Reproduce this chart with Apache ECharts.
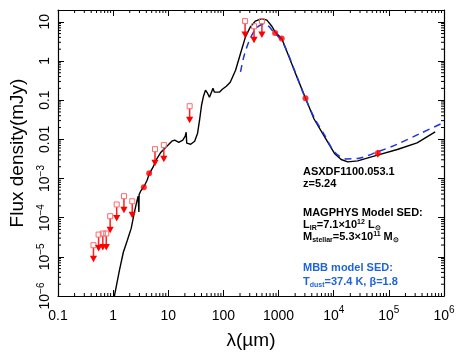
<!DOCTYPE html>
<html><head><meta charset="utf-8">
<script src="https://cdn.jsdelivr.net/npm/echarts@6/dist/echarts.min.js"></script>
<style>html,body{margin:0;padding:0;background:#fff}#c{width:463px;height:363px}</style>
</head><body><div id="c"></div>
<script>
// MAGPHYS model SED (wavelength in micron, flux in mJy)
const lamModel = [1.04,1.30,1.53,1.81,2.13,2.41,2.62,2.84,2.90,2.93,2.96,3.15,3.65,4.13,4.49,5.29,5.99,7.36,9.84,11.6,13.1,15.5,18.3,20.3,21.1,21.6,25.5,30.1,34.0,36.9,40.1,43.5,47.3,51.4,55.8,60.7,64.6,68.7,74.6,84.4,95.5,113,133,166,204,251,308,378,499,614,755,865,1140,1506,2123,3080,4400,6840,10330,13640,17990,27200,62200,142000,325000,692000];
const fluxModel = [9.1e-7,4.5e-6,1.31e-5,2.65e-5,5.4e-5,1.30e-4,2.21e-4,3.53e-4,3.7e-4,1.4e-4,3.9e-4,4.73e-4,6.35e-4,9.0e-4,1.29e-3,1.94e-3,2.93e-3,4.69e-3,7.08e-3,8.95e-3,9.5e-3,8.4e-3,9.5e-3,1.2e-2,1.52e-2,7.96e-3,7.5e-3,8.95e-3,1.43e-2,3.07e-2,7.4e-2,0.126,0.18,0.15,0.119,0.16,0.20,0.16,0.15,0.16,0.19,0.227,0.287,0.58,1.55,4.11,7.41,10.4,12.1,11.0,7.7,5.5,3.75,1.40,0.41,0.112,0.033,0.01153,4.35e-3,3.05e-3,2.65e-3,2.81e-3,3.93e-3,5.5e-3,8.1e-3,1.55e-2];
// MBB model SED
const lamMBB = [204,234,288,354,436,535,659,809,995,1140,1506,2123,2990,4520,6840,9680,12700,16750,27200,62200,142000,372000,912000];
const fluxMBB = [0.526,1.27,3.07,5.52,7.73,8.69,7.73,5.52,4.12,3.4,1.45,0.42,0.121,0.034,0.0127,5.27e-3,3.71e-3,3.16e-3,3.24e-3,4.78e-3,7.5e-3,0.0141,0.0254];
// detections
const detLam = [3.6,4.5,865,1140,3080,63000];
const detFlux = [6.0e-4,1.36e-3,5.2,3.75,0.112,4.4e-3];
const detErr = [0,0,0,0,0,0.0009];
// upper limits
const ulLam = [0.44,0.545,0.65,0.75,0.883,1.16,1.57,2.22,5.74,8.3,24.4,247,359,499];
const ulFlux = [1.98e-5,3.7e-5,3.94e-5,3.94e-5,1.09e-4,2.17e-4,3.53e-4,2.62e-4,5.6e-3,7.1e-3,0.070,10.4,7.7,10.4];
// tick labels
const xTickExp = [-1,0,1,2,3,4,5,6];
const xTickBase = ['0.1','1','10','100','1000','10','10','10'];
const xTickSup = ['','','','','','4','5','6'];
const yTickExp = [-6,-5,-4,-3,-2,-1,0,1];
const yTickBase = ['10','10','10','10','0.01','0.1','1','10'];
const yTickSup = ['\u22126','\u22125','\u22124','\u22123','','','',''];

const FF = '"Liberation Sans", Arial, Helvetica, sans-serif';
function fmt(exps, base, sup) {
  return function (v) {
    const e = Math.log10(v), k = Math.round(e);
    if (Math.abs(e - k) > 0.02) return '';
    const i = exps.indexOf(k);
    if (i < 0) return '';
    return '{b|' + base[i] + '}' + (sup[i] ? '{s|' + sup[i] + '}' : '');
  };
}
const minorData = [];
for (let k = -1; k <= 5; k++) for (let m = 2; m <= 9; m++) minorData.push([m * Math.pow(10, k), 1, 0]);
for (let k = -6; k <= 1; k++) for (let m = 2; m <= 9; m++) { const f = m * Math.pow(10, k); if (f < 20) minorData.push([1, f, 1]); }

const axisCommon = {
  type: 'log', logBase: 10,
  axisLine: { show: true, lineStyle: { color: '#000', width: 1.2 } },
  axisTick: { show: true, inside: true, length: 6, lineStyle: { color: '#000', width: 1 } },
  splitLine: { show: false }, minorTick: { show: false }
};
const xLab = {
  formatter: fmt(xTickExp, xTickBase, xTickSup), margin: 9, color: '#000',
  rich: { b: { fontSize: 14, lineHeight: 22, fontFamily: FF, color: '#000' },
          s: { fontSize: 10, lineHeight: 10, verticalAlign: 'top', fontFamily: FF, color: '#000' } }
};
const yLab = {
  formatter: fmt(yTickExp, yTickBase, yTickSup), margin: 4, rotate: 90, color: '#000',
  rich: { b: { fontSize: 14, lineHeight: 18, fontFamily: FF, color: '#000' },
          s: { fontSize: 10, lineHeight: 10, verticalAlign: 'top', fontFamily: FF, color: '#000' } }
};

const chart = echarts.init(document.getElementById('c'), null, { renderer: 'canvas' });
const red = '#ff0000';
chart.setOption({
  animation: false,
  backgroundColor: '#fff',
  grid: { left: 54, right: 19, top: 10, bottom: 67, show: false },
  xAxis: [
    Object.assign({}, axisCommon, { min: 0.1, max: 1e6, position: 'bottom', axisLabel: xLab,
      name: '\u03bb(\u00b5m)', nameLocation: 'middle', nameGap: 35,
      nameTextStyle: { fontSize: 19, fontFamily: FF, color: '#000' } }),
    Object.assign({}, axisCommon, { min: 0.1, max: 1e6, position: 'top', axisLabel: { show: false } })
  ],
  yAxis: [
    Object.assign({}, axisCommon, { min: 1e-6, max: 20, position: 'left', axisLabel: yLab,
      name: 'Flux density(mJy)', nameLocation: 'middle', nameGap: 31,
      nameTextStyle: { fontSize: 19, fontFamily: FF, color: '#000' } }),
    Object.assign({}, axisCommon, { min: 1e-6, max: 20, position: 'right', axisLabel: { show: false } })
  ],
  series: [
    { type: 'custom', silent: true, data: minorData, z: 1,
      renderItem: function (params, api) {
        const cs = params.coordSys;
        const st = { stroke: '#000', lineWidth: 1 };
        if (api.value(2) === 0) {
          const x = api.coord([api.value(0), 1])[0];
          return { type: 'group', children: [
            { type: 'line', shape: { x1: x, y1: cs.y + cs.height, x2: x, y2: cs.y + cs.height - 3 }, style: st },
            { type: 'line', shape: { x1: x, y1: cs.y, x2: x, y2: cs.y + 3 }, style: st } ] };
        } else {
          const y = api.coord([1, api.value(1)])[1];
          return { type: 'group', children: [
            { type: 'line', shape: { x1: cs.x, y1: y, x2: cs.x + 3, y2: y }, style: st },
            { type: 'line', shape: { x1: cs.x + cs.width, y1: y, x2: cs.x + cs.width - 3, y2: y }, style: st } ] };
        }
      } },
    { type: 'line', data: lamModel.map((l, i) => [l, fluxModel[i]]), showSymbol: false, symbol: 'none',
      lineStyle: { color: '#000', width: 1.4 }, z: 3, clip: true },
    { type: 'line', data: lamMBB.map((l, i) => [l, fluxMBB[i]]), showSymbol: false, symbol: 'none', smooth: 0.3,
      lineStyle: { color: '#1c33e0', width: 1.5, type: [7, 5] }, z: 4, clip: true },
    { type: 'custom', silent: true, z: 5, data: ulLam.map((l, i) => [l, ulFlux[i]]),
      renderItem: function (params, api) {
        const p = api.coord([api.value(0), api.value(1)]);
        const x = p[0], y = p[1], tip = y + 17;
        return { type: 'group', children: [
          { type: 'line', shape: { x1: x, y1: y + 2.5, x2: x, y2: tip - 5 }, style: { stroke: '#ff2020', lineWidth: 1.5 } },
          { type: 'polygon', shape: { points: [[x - 3.6, tip - 6.5], [x + 3.6, tip - 6.5], [x, tip]] }, style: { fill: red } },
          { type: 'rect', shape: { x: x - 2.5, y: y - 2.5, width: 5, height: 5 }, style: { stroke: '#ff6a6a', fill: 'rgba(255,255,255,0)', lineWidth: 1 } }
        ] };
      } },
    { type: 'custom', silent: true, z: 6, data: detLam.map((l, i) => [l, detFlux[i] - detErr[i], detFlux[i] + detErr[i]]),
      renderItem: function (params, api) {
        const a = api.coord([api.value(0), api.value(1)]);
        const b = api.coord([api.value(0), api.value(2)]);
        return { type: 'line', shape: { x1: a[0], y1: a[1], x2: b[0], y2: b[1] }, style: { stroke: red, lineWidth: 1.5 } };
      } },
    { type: 'scatter', data: detLam.map((l, i) => [l, detFlux[i]]), symbol: 'circle', symbolSize: 6,
      itemStyle: { color: red }, z: 7 }
  ],
  graphic: [
    { type: 'text', x: 303, y: 172, style: { text: 'ASXDF1100.053.1', fontSize: 11, fontWeight: 'bold', fontFamily: FF, fill: '#000', verticalAlign: 'middle' } },
    { type: 'text', x: 303, y: 184, style: { text: 'z=5.24', fontSize: 11, fontWeight: 'bold', fontFamily: FF, fill: '#000', verticalAlign: 'middle' } },
    { type: 'text', x: 303, y: 213, style: { text: 'MAGPHYS Model SED:', fontSize: 11, fontWeight: 'bold', fontFamily: FF, fill: '#000', verticalAlign: 'middle' } },
    { type: 'text', x: 303, y: 225, style: { text: 'L{sub|IR}=7.1\u00d710{sup|12} L{sub|\u2299}', fontSize: 11, fontWeight: 'bold', fontFamily: FF, fill: '#000', verticalAlign: 'middle', lineHeight: 13,
      rich: { sub: { fontSize: 7, fontWeight: 'bold', fontFamily: FF, verticalAlign: 'bottom', fill: '#000' }, sup: { fontSize: 7, fontWeight: 'bold', fontFamily: FF, verticalAlign: 'top', fill: '#000' } } } },
    { type: 'text', x: 303, y: 237, style: { text: 'M{sub|stellar}=5.3\u00d710{sup|11} M{sub|\u2299}', fontSize: 11, fontWeight: 'bold', fontFamily: FF, fill: '#000', verticalAlign: 'middle', lineHeight: 13,
      rich: { sub: { fontSize: 7, fontWeight: 'bold', fontFamily: FF, verticalAlign: 'bottom', fill: '#000' }, sup: { fontSize: 7, fontWeight: 'bold', fontFamily: FF, verticalAlign: 'top', fill: '#000' } } } },
    { type: 'text', x: 303, y: 268, style: { text: 'MBB model SED:', fontSize: 11, fontWeight: 'bold', fontFamily: FF, fill: '#1e64dc', verticalAlign: 'middle' } },
    { type: 'text', x: 303, y: 282, style: { text: 'T{sub|dust}=37.4 K, \u03b2=1.8', fontSize: 11, fontWeight: 'bold', fontFamily: FF, fill: '#1e64dc', verticalAlign: 'middle', lineHeight: 13,
      rich: { sub: { fontSize: 7, fontWeight: 'bold', fontFamily: FF, verticalAlign: 'bottom', fill: '#1e64dc' } } } }
  ]
});
</script></body></html>
